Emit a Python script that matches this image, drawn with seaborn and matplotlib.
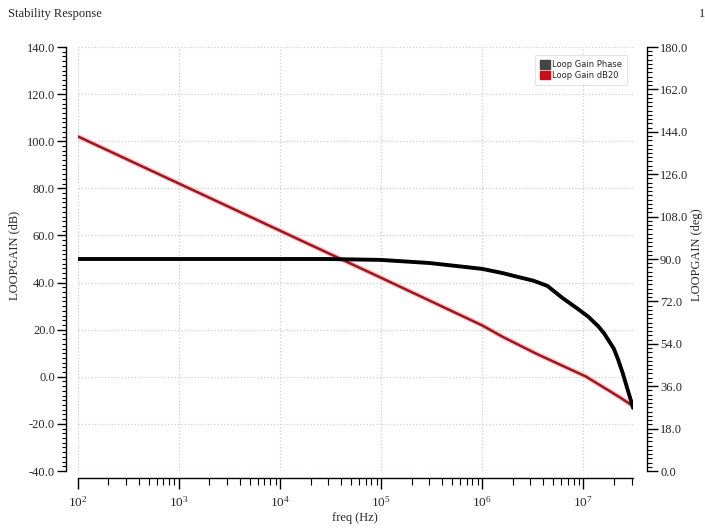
import numpy as np
import pandas as pd
import matplotlib
matplotlib.use('Agg')
import matplotlib.pyplot as plt
import seaborn as sns
from matplotlib.patches import Patch
from matplotlib.ticker import MultipleLocator, LogLocator, NullFormatter, FormatStrFormatter

# ---- data ----
gain_freq = [1e2, 1e3, 1e4, 1e5, 1e6, 1.6e6, 3.5e6, 1.05e7, 1.86e7, 2.35e7, 3.1e7]
gain_db = [102.0, 82.0, 62.0, 42.0, 21.8, 16.9, 9.6, 0.2, -6.3, -9.0, -12.4]

phase_freq = [1e2, 1e4, 3e4, 1e5, 3e5, 1e6, 1.6e6, 2.2e6, 3.2e6, 4.4e6, 6.2e6,
              8.7e6, 1.12e7, 1.4e7, 1.6e7, 2.0e7, 2.2e7, 2.45e7, 2.75e7, 3.0e7, 3.1e7]
phase_deg = [90.0, 90.0, 90.0, 89.6, 88.3, 85.8, 84.0, 82.5, 80.8, 78.6, 73.5,
             69.0, 65.5, 61.5, 58.5, 52.0, 47.5, 41.6, 34.4, 29.0, 26.8]

series_names = ['Loop Gain Phase', 'Loop Gain dB20']
series_colors = ['#444444', '#c8101a']

gain_df = pd.DataFrame({'freq': gain_freq, 'dB': gain_db})
phase_df = pd.DataFrame({'freq': phase_freq, 'deg': phase_deg})

sns.set_theme(style='white')
plt.rcParams['font.family'] = ['Liberation Serif', 'DejaVu Serif']
plt.rcParams['mathtext.default'] = 'regular'

fig = plt.figure(figsize=(7.05, 5.28), dpi=100)
ax = fig.add_axes([78 / 705, 57 / 528, 555 / 705, 424 / 528])
ax2 = ax.twinx()

# red gain trace, pink halo + dark red core
sns.lineplot(data=gain_df, x='freq', y='dB', ax=ax, color='#f2a6a6', lw=3.6, alpha=0.6)
sns.lineplot(data=gain_df, x='freq', y='dB', ax=ax, color='#a3141c', lw=1.8)
# phase trace on the right axis
sns.lineplot(data=phase_df, x='freq', y='deg', ax=ax2, color='black', lw=2.8)

ax.set_xscale('log')
ax.set_xlim(100, 3.1e7)
ax.set_ylim(-40, 140)
ax2.set_ylim(0, 180)

ax.yaxis.set_major_locator(MultipleLocator(20))
ax.yaxis.set_minor_locator(MultipleLocator(2))
ax2.yaxis.set_major_locator(MultipleLocator(18))
ax2.yaxis.set_minor_locator(MultipleLocator(1.8))
ax.xaxis.set_major_locator(LogLocator(base=10, numticks=20))
ax.xaxis.set_minor_locator(LogLocator(base=10, subs=np.arange(2, 10), numticks=50))
ax.xaxis.set_minor_formatter(NullFormatter())
ax.yaxis.set_major_formatter(FormatStrFormatter('%.1f'))
ax2.yaxis.set_major_formatter(FormatStrFormatter('%.1f'))

# dotted grid inside the plot area
ax.grid(True, which='major', axis='both', linestyle=':', color='#cfcfcf', lw=0.9)
ax.set_axisbelow(True)

# detached spines like the simulator view
for a in (ax, ax2):
    a.spines['top'].set_visible(False)
    for s in a.spines.values():
        s.set_color('black')
        s.set_linewidth(1.0)
ax.spines['right'].set_visible(False)
ax2.spines['left'].set_visible(False)
ax2.spines['bottom'].set_visible(False)
ax.spines['left'].set_position(('outward', 8.6))
ax.spines['bottom'].set_position(('outward', 5))
ax2.spines['right'].set_position(('outward', 10))

ax.tick_params(axis='y', which='major', direction='out', length=6.5, width=1, pad=1.5,
               labelsize=9, left=True, color='black')
ax.tick_params(axis='y', which='minor', direction='out', length=3, width=0.8, left=True, color='black')
ax.tick_params(axis='x', which='major', direction='out', length=8, width=1, pad=4,
               labelsize=9.5, bottom=True, color='black')
ax.tick_params(axis='x', which='minor', direction='out', length=5, width=0.8, bottom=True, color='black')
ax2.tick_params(axis='y', which='major', direction='out', length=8, width=1, pad=1.5,
                labelsize=9, right=True, color='black')
ax2.tick_params(axis='y', which='minor', direction='out', length=3.5, width=0.8, right=True, color='black')

ax.set_xlabel('')
ax.set_ylabel('')
ax2.set_ylabel('')
fig.text(14 / 705, 1 - 255 / 528, 'LOOPGAIN (dB)', rotation=90, ha='center', va='center', fontsize=9)
fig.text(697 / 705, 1 - 255 / 528, 'LOOPGAIN (deg)', rotation=90, ha='center', va='center', fontsize=9)
fig.text(355 / 705, 1 - 518 / 528, 'freq (Hz)', ha='center', va='center', fontsize=9)

fig.text(8 / 705, 1 - 14 / 528, 'Stability Response', ha='left', va='center', fontsize=9)
fig.text(699 / 705, 1 - 14 / 528, '1', ha='left', va='center', fontsize=9)

handles = [Patch(facecolor=c, edgecolor=c, label=n) for n, c in zip(series_names, series_colors)]
leg = ax2.legend(handles=handles, loc='upper right', frameon=True, fancybox=True,
                 handlelength=1.2, handleheight=1.2, handletextpad=0.3, borderpad=0.6,
                 labelspacing=0.15, bbox_to_anchor=(0.997, 0.99),
                 prop={'family': 'DejaVu Sans', 'size': 6})
leg.get_frame().set_edgecolor('#dddddd')
leg.get_frame().set_linewidth(0.8)

fig.savefig('out.png', dpi=100)
